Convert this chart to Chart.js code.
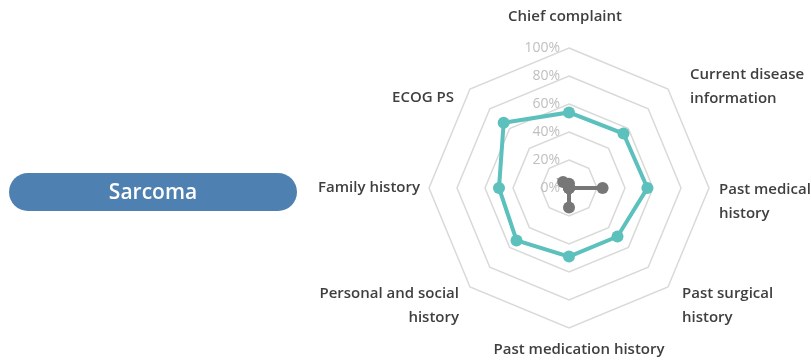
<!DOCTYPE html>
<html>
<head>
<meta charset="utf-8">
<script src="https://cdn.jsdelivr.net/npm/chart.js@4.4.1/dist/chart.umd.min.js"></script>
<style>
  html, body { margin: 0; padding: 0; background: #fff; overflow: hidden; }
  #wrap { position: relative; width: 811px; height: 362px; }
  #pill {
    position: absolute; left: 9px; top: 173px; width: 288px; height: 38px;
    background: #4e81b1; border-radius: 19px; color: #fff;
    font: 600 21px "Open Sans", sans-serif; text-align: center; line-height: 37px;
  }
</style>
</head>
<body>
<div id="wrap">
  <canvas id="radarChart" width="811" height="362"></canvas>
  <div id="pill">Sarcoma</div>
</div>
<script>
// categories and values (percent)
const categories = [
    'Chief complaint',
    ['Current disease', 'information'],
    ['Past medical', 'history'],
    ['Past surgical', 'history'],
    'Past medication history',
    ['Personal and social', 'history'],
    'Family history',
    'ECOG PS'
];
const tealValues = [54, 55, 56, 49, 49, 53, 50, 66];
const greyValues = [3, 0, 24, 0, 14, 0, 0, 6];
const tickValues = [0, 20, 40, 60, 80, 100];

// label placement relative to the 100% vertex: [align, dx, dy]
const labelPlace = [
    ['center', -4, -31],
    ['left', 22, -2],
    ['left', 10, 14],
    ['left', 14, 19],
    ['center', 10, 22],
    ['right', -11, 19],
    ['right', -9, 0],
    ['right', -16, 9]
];

const labelFont = '600 15px "Open Sans", sans-serif';
const lineH = 24;

// draws the axis labels and tick labels using the scale positions
const labelPlugin = {
    id: 'labelPlugin',
    afterDraw(chart) {
        const scale = chart.scales.r;
        const ctx = chart.ctx;
        ctx.save();
        ctx.font = labelFont;
        ctx.fillStyle = '#3f3f3f';
        ctx.textBaseline = 'middle';
        categories.forEach((label, i) => {
            const pos = scale.getPointPosition(i, scale.drawingArea);
            const [align, dx, dy] = labelPlace[i];
            const lines = Array.isArray(label) ? label : [label];
            ctx.textAlign = align;
            const y0 = pos.y + dy - (lines.length - 1) * lineH / 2;
            lines.forEach((t, k) => ctx.fillText(t, pos.x + dx, y0 + k * lineH));
        });
        ctx.font = '14px "Open Sans", sans-serif';
        ctx.fillStyle = '#bfbfbf';
        ctx.textAlign = 'right';
        tickValues.forEach(v => {
            const p = scale.getPointPosition(0, scale.getDistanceFromCenterForValue(v));
            ctx.fillText(v + '%', p.x - 9, p.y);
        });
        ctx.restore();
    }
};

const radarCtx = document.getElementById('radarChart').getContext('2d');
const radarChart = new Chart(radarCtx, {
    type: 'radar',
    data: {
        labels: categories,
        datasets: [{
            label: 'Sarcoma',
            data: tealValues,
            borderColor: '#5cc0bc',
            backgroundColor: '#5cc0bc',
            pointBackgroundColor: '#5cc0bc',
            pointBorderWidth: 0,
            borderWidth: 4,
            pointRadius: 6,
            fill: false
        }, {
            label: 'Other',
            data: greyValues,
            borderColor: '#777777',
            backgroundColor: '#777777',
            pointBackgroundColor: '#777777',
            pointBorderWidth: 0,
            borderWidth: 4,
            pointRadius: 6,
            fill: false
        }]
    },
    options: {
        responsive: false,
        animation: false,
        layout: {
            padding: { left: 429, top: 48, right: 102, bottom: 34 }
        },
        plugins: {
            legend: { display: false },
            tooltip: { enabled: false }
        },
        elements: { line: { tension: 0 } },
        scales: {
            r: {
                min: 0,
                max: 100,
                ticks: { stepSize: 20, display: false },
                pointLabels: { display: false },
                angleLines: { display: false },
                grid: { color: '#d9d9d9', lineWidth: 1.5 }
            }
        }
    },
    plugins: [labelPlugin]
});
</script>
</body>
</html>
